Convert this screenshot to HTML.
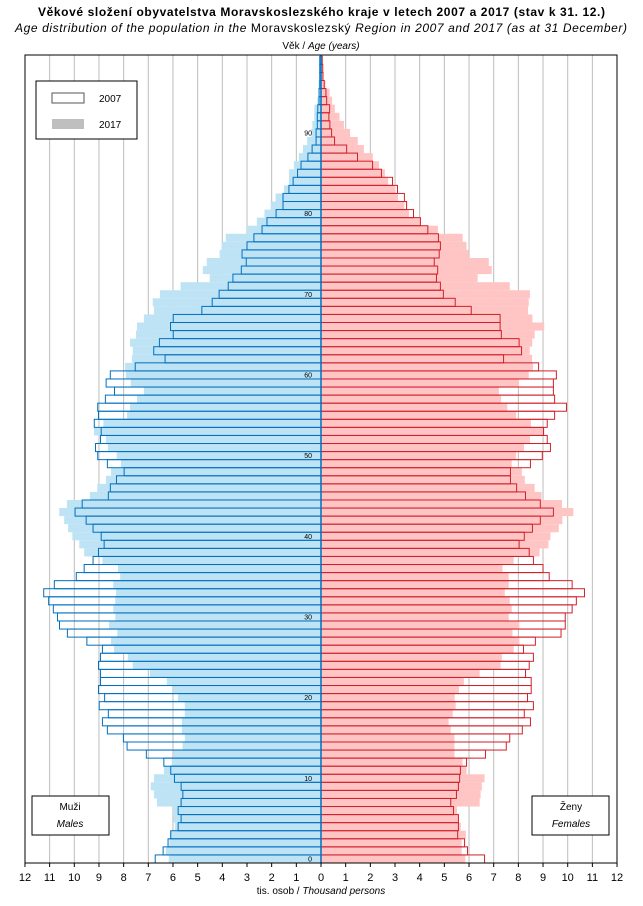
<!DOCTYPE html>
<html><head><meta charset="utf-8"><style>
html,body{margin:0;padding:0;background:#fff;}
svg text{font-family:"Liberation Sans",sans-serif;}
</style></head><body>
<svg id="s" width="643" height="901" xmlns="http://www.w3.org/2000/svg">
<text x="38" y="16" font-size="12" font-weight="bold" textLength="567" lengthAdjust="spacing">Věkové složení obyvatelstva  Moravskoslezského  kraje v letech 2007 a 2017 (stav k 31. 12.)</text>
<text x="15" y="32" font-size="12" font-style="italic" textLength="612" lengthAdjust="spacing">Age distribution of the population  in the <tspan font-style="normal">Moravskoslezský</tspan> Region  in 2007 and 2017 (as at 31 December)</text>
<text x="321" y="49" text-anchor="middle" font-size="10">Věk / <tspan font-style="italic">Age (years)</tspan></text>
<g id="g"></g>
</svg>
<script>
var M07=[6.72,6.4,6.2,6.09,5.79,5.67,5.79,5.67,5.6,5.67,5.94,6.09,6.37,7.08,7.86,8.01,8.66,8.86,8.62,8.99,8.77,9.02,8.94,8.94,9.02,8.94,8.86,9.49,10.28,10.6,10.68,10.85,11.04,11.24,10.81,9.92,9.6,9.24,9.02,8.79,8.91,9.24,9.52,9.97,9.68,8.62,8.54,8.29,7.98,8.66,9.05,9.14,8.94,8.91,9.19,9.02,9.05,8.74,8.37,8.71,8.54,7.53,6.32,6.78,6.55,5.99,6.1,5.99,4.83,4.41,4.13,3.76,3.57,3.23,3.03,3.2,3.0,2.72,2.39,2.19,1.82,1.54,1.54,1.3,1.13,0.95,0.81,0.53,0.36,0.2,0.2,0.15,0.15,0.13,0.08,0.08,0.05,0.05,0.05,0.05];
var M17=[6.17,6.29,6.15,6.12,5.92,5.97,6.0,6.65,6.77,6.9,6.77,6.37,6.05,5.97,5.61,5.52,5.64,5.64,5.52,5.52,5.8,5.97,6.25,6.93,7.63,7.83,8.39,8.51,8.26,8.59,8.34,8.42,8.34,8.31,8.42,8.14,8.23,8.86,9.6,9.8,10.08,10.25,10.41,10.61,10.3,9.37,9.07,8.72,8.51,8.11,8.28,8.64,8.72,9.2,8.82,7.86,7.74,7.46,7.18,7.71,7.91,7.94,7.66,7.63,7.74,7.5,7.46,7.18,6.77,6.82,6.53,5.69,4.51,4.79,4.63,4.11,4.03,3.86,3.0,2.6,2.29,2.04,1.84,1.5,1.3,1.3,1.1,0.9,0.73,0.56,0.4,0.35,0.27,0.27,0.15,0.1,0.1,0.05,0.05,0.05];
var F07=[6.63,5.94,5.82,5.54,5.57,5.57,5.37,5.26,5.49,5.57,5.62,5.65,5.9,6.67,7.51,7.65,8.16,8.49,8.24,8.61,8.37,8.52,8.52,8.29,8.44,8.61,8.21,8.69,9.73,9.9,9.9,10.18,10.35,10.68,10.18,9.25,9.0,8.61,8.44,8.03,8.24,8.57,8.89,9.42,8.89,8.29,7.93,7.68,7.68,8.49,8.97,9.3,9.17,9.02,9.17,9.47,9.95,9.47,9.42,9.42,9.54,8.82,7.4,8.13,8.03,7.31,7.26,7.26,6.09,5.44,4.96,4.84,4.68,4.73,4.59,4.79,4.84,4.76,4.33,4.03,3.75,3.47,3.38,3.1,2.9,2.45,2.09,1.48,1.04,0.55,0.43,0.36,0.32,0.35,0.23,0.2,0.13,0.08,0.07,0.05];
var F17=[5.85,5.7,5.7,5.87,5.67,5.57,5.51,6.43,6.47,6.52,6.63,5.9,5.74,5.41,5.41,5.41,5.26,5.17,5.34,5.46,5.42,5.59,5.79,6.43,7.28,7.33,7.81,8.04,7.76,8.04,7.61,7.73,7.65,7.45,7.61,7.61,7.36,7.81,8.86,9.22,9.3,9.64,9.78,10.23,9.77,8.94,8.66,8.26,8.14,7.73,7.91,8.23,8.47,9.05,8.51,7.91,7.55,7.3,7.21,8.03,8.42,8.59,8.56,8.46,8.56,8.66,9.05,8.57,8.39,8.42,8.47,7.65,6.35,6.92,6.8,5.99,5.9,5.74,4.74,4.03,3.57,3.38,3.12,3.02,2.72,2.59,2.35,2.1,1.74,1.49,1.18,0.93,0.75,0.56,0.45,0.35,0.18,0.1,0.05,0.05];
var X0=321,U=24.67,B=863,H=8.067,L=25,R=617,T=55;
var h='';
for(var i=-11;i<=11;i++){if(i==0)continue;var x=X0+i*U;h+='<line x1="'+x+'" y1="'+T+'" x2="'+x+'" y2="'+B+'" stroke="#bdbdbd" stroke-width="1"/>';}
function y(a){return B-(a+1)*H;}
for(var a=0;a<100;a++){
 h+='<rect x="'+(X0-M17[a]*U)+'" y="'+y(a)+'" width="'+(M17[a]*U)+'" height="'+H+'" fill="#bde3f5"/>';
 h+='<rect x="'+X0+'" y="'+y(a)+'" width="'+(F17[a]*U)+'" height="'+H+'" fill="#ffc4c4"/>';
}
for(var a=0;a<100;a++){
 h+='<rect x="'+(X0-M07[a]*U)+'" y="'+y(a)+'" width="'+(M07[a]*U)+'" height="'+H+'" fill="none" stroke="#0070c0" stroke-width="1"/>';
 h+='<rect x="'+X0+'" y="'+y(a)+'" width="'+(F07[a]*U)+'" height="'+H+'" fill="none" stroke="#d0202a" stroke-width="1"/>';
}
h+='<line x1="'+X0+'" y1="'+T+'" x2="'+X0+'" y2="'+B+'" stroke="#0070c0" stroke-width="1.5"/>';
for(var a=0;a<=90;a+=10){h+='<text x="312" y="'+(B-(a+0.5)*H+2.5)+'" text-anchor="end" font-size="7">'+a+'</text>';}
h+='<rect x="'+L+'" y="'+T+'" width="'+(R-L)+'" height="'+(B-T)+'" fill="none" stroke="#000" stroke-width="1"/>';
for(var i=-12;i<=12;i++){var x=X0+i*U;h+='<line x1="'+x+'" y1="'+B+'" x2="'+x+'" y2="'+(B+4)+'" stroke="#000"/>';h+='<text x="'+x+'" y="'+(B+18)+'" text-anchor="middle" font-size="11">'+Math.abs(i)+'</text>';}
h+='<text x="321" y="894" text-anchor="middle" font-size="10">tis. osob / <tspan font-style="italic">Thousand persons</tspan></text>';
h+='<rect x="36" y="81" width="101" height="58" fill="#fff" stroke="#000" stroke-width="1"/>';
h+='<rect x="52" y="93" width="32" height="10" fill="#fff" stroke="#555" stroke-width="1"/>';
h+='<text x="99" y="102" font-size="10">2007</text>';
h+='<rect x="52" y="119" width="32" height="10" fill="#bfbfbf"/>';
h+='<text x="99" y="128" font-size="10">2017</text>';
h+='<rect x="32" y="796" width="77" height="39" fill="#fff" stroke="#000"/>';
h+='<text x="70" y="810" text-anchor="middle" font-size="10">Muži</text><text x="70" y="827" text-anchor="middle" font-size="10" font-style="italic">Males</text>';
h+='<rect x="532" y="796" width="77" height="39" fill="#fff" stroke="#000"/>';
h+='<text x="571" y="810" text-anchor="middle" font-size="10">Ženy</text><text x="571" y="827" text-anchor="middle" font-size="10" font-style="italic">Females</text>';
document.getElementById('g').innerHTML=h;
</script>
</body></html>
